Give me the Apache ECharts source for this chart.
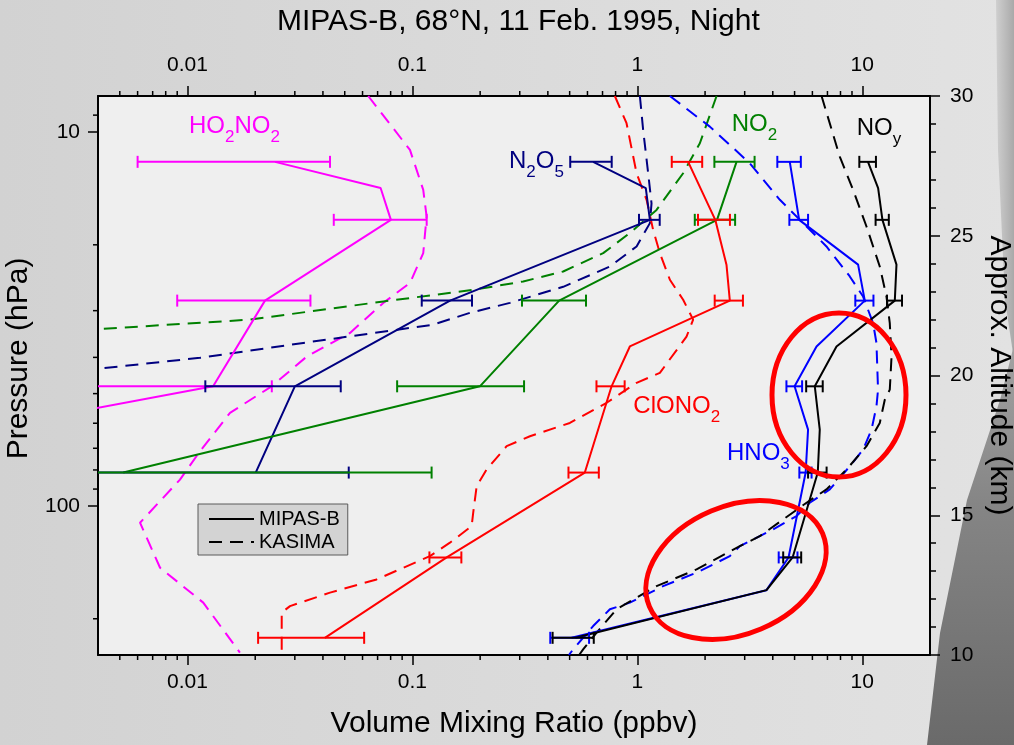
<!DOCTYPE html>
<html><head><meta charset="utf-8">
<script src="https://cdn.jsdelivr.net/npm/echarts@6/dist/echarts.min.js"></script>
<style>html,body{margin:0;padding:0;background:#d8d8d8}#c{width:1014px;height:745px}</style>
</head><body><div id="c"></div>
<script>
const FONT = "'Liberation Sans', Arial, Helvetica, sans-serif";

// MIPAS-B retrieval levels (hPa)
const pLevels = [12.0, 14.1, 17.15, 22.6, 28.2, 37.4, 47.8, 62.4, 81.3, 103.9, 137.1, 167.7, 224.9];

// MIPAS-B profiles (ppbv), null = no vertex at that level
const mipHO2NO2 = [0.0245, 0.0722, 0.0802, null, 0.0221, null, 0.0130, 0.0012, null, null, null, null, null];
const errHO2NO2 = [0.0185, null, 0.0355, null, 0.0131, null, 0.0107, null, null, null, null, null, null];
const mipN2O5 = [0.636, 1.09, 1.137, null, 0.147, null, 0.030, null, 0.0201, null, null, null, null];
const errN2O5 = [0.133, null, 0.12, null, 0.037, null, 0.018, null, 0.032, null, null, null, null];
const mipNO2 = [2.76, null, 2.26, null, 0.449, null, 0.1995, null, 0.00518, null, null, null, null];
const errNO2 = [0.56, null, 0.46, null, 0.142, null, 0.114, null, 0.1165, null, null, null, null];
const mipClONO2 = [1.682, null, 2.22, 2.49, 2.577, 0.926, 0.768, null, 0.584, null, 0.142, null, 0.0408];
const errClONO2 = [0.26, null, 0.36, null, 0.37, null, 0.11, null, 0.09, null, 0.023, null, 0.0202];
const mipHNO3 = [4.76, null, 5.24, 9.58, 10.26, 6.26, 5.0, 5.74, 5.6, null, 4.7, 3.75, 0.51];
const errHNO3 = [0.57, null, 0.5, null, 0.95, null, 0.4, null, 0.35, null, 0.45, null, 0.1];
const mipNOy = [10.6, 11.76, 12.29, 14.19, 13.95, 7.68, 6.15, 6.47, 6.34, null, 4.9, 3.75, 0.53];
const errNOy = [0.9, null, 0.83, null, 1.07, null, 0.52, null, 0.6, null, 0.45, null, 0.11];

// KASIMA model profiles: pressure (hPa) and VMR (ppbv)
const kasHO2NO2P = [8.0, 11.15, 14.26, 16.8, 21.05, 25.3, 28.6, 34.4, 39.8, 47.8, 56.3, 71.3, 84.9, 110.7, 146.1, 181.1, 246.4];
const kasHO2NO2V = [0.0636, 0.0975, 0.1117, 0.1156, 0.1117, 0.0975, 0.0742, 0.0528, 0.0339, 0.02366, 0.01545, 0.01136, 0.00926, 0.00615, 0.00755, 0.01175, 0.0171];
const kasNO2P = [8.0, 10.7, 12.87, 16.13, 18.6, 21.05, 23.57, 25.06, 26.4, 28.35, 31.7, 33.6, 34.0];
const kasNO2V = [2.25, 1.896, 1.598, 1.217, 0.926, 0.7047, 0.468, 0.3108, 0.1863, 0.0742, 0.01896, 0.00408, 0.003];
const kasN2O5P = [8.0, 9.86, 12.87, 15.5, 17.5, 20.2, 22.86, 25.9, 28.6, 30.4, 32.7, 36.6, 40.1, 42.9, 43.5];
const kasN2O5V = [1.026, 1.061, 1.117, 1.156, 1.137, 0.992, 0.755, 0.468, 0.2713, 0.18, 0.1237, 0.0327, 0.01136, 0.004, 0.003];
const kasClONO2P = [8.0, 9.46, 12.87, 15.16, 18.24, 21.05, 24.8, 28.05, 31.7, 35.2, 44.0, 46.8, 52.9, 59.9, 65.0, 69.1, 79.8, 88.4, 104.1, 113.1, 125.2, 136.0, 157.0, 170.3, 185.0, 192.6, 250];
const kasClONO2V = [0.794, 0.895, 0.992, 1.099, 1.175, 1.259, 1.395, 1.598, 1.77, 1.654, 1.259, 0.992, 0.73, 0.501, 0.333, 0.2623, 0.2137, 0.193, 0.1863, 0.1833, 0.1468, 0.1196, 0.0693, 0.043, 0.02855, 0.02623, 0.02623];
const kasHNO3P = [8.0, 9.66, 12.1, 15.16, 17.5, 20.2, 24.3, 27.5, 32.4, 36.6, 48.8, 54.1, 62.4, 70.6, 78.2, 90.2, 97.9, 106.3, 115.4, 127.9, 136.0, 150.6, 163.6, 181.1, 188.7, 209.2, 241.4, 250];
const kasHNO3V = [1.395, 2.1, 3.16, 4.3, 5.46, 6.93, 8.8, 10.08, 11.17, 11.56, 11.75, 11.56, 10.99, 10.08, 8.8, 7.17, 5.84, 5.1, 4.01, 2.855, 2.577, 1.833, 1.302, 0.926, 0.755, 0.636, 0.5186, 0.496];
const kasNOyP = [8.0, 11.62, 14.26, 17.87, 22.86, 27.5, 32.4, 39.8, 48.8, 51.9, 59.9, 69.1, 79.8, 90.2, 97.9, 108.5, 120.3, 127.9, 147.6, 163.6, 188.7, 217.8, 241.4, 250];
const kasNOyV = [6.59, 7.94, 9.1, 10.44, 11.96, 12.81, 13.25, 13.49, 13.25, 12.59, 11.96, 10.44, 8.51, 6.93, 5.65, 4.45, 3.5, 2.855, 1.833, 1.217, 0.808, 0.659, 0.574, 0.551];

// axis ranges and minor ticks
const vmrRange = [0.004, 20];
const pRange = [8, 250];
const altRange = [10, 30];
const xMinorTicks = [0.005,0.006,0.007,0.008,0.009, 0.02,0.03,0.04,0.05,0.06,0.07,0.08,0.09, 0.2,0.3,0.4,0.5,0.6,0.7,0.8,0.9, 2,3,4,5,6,7,8,9];
const yMinorTicks = [9, 20, 30, 40, 50, 60, 70, 80, 90, 200];

const species = [
  {name:'HO2NO2', color:'#ff00ff', mip:mipHO2NO2, err:errHO2NO2, kp:kasHO2NO2P, kv:kasHO2NO2V},
  {name:'N2O5', color:'#000080', mip:mipN2O5, err:errN2O5, kp:kasN2O5P, kv:kasN2O5V},
  {name:'NO2', color:'#008000', mip:mipNO2, err:errNO2, kp:kasNO2P, kv:kasNO2V},
  {name:'ClONO2', color:'#ff0000', mip:mipClONO2, err:errClONO2, kp:kasClONO2P, kv:kasClONO2V},
  {name:'HNO3', color:'#0000ff', mip:mipHNO3, err:errHNO3, kp:kasHNO3P, kv:kasHNO3V},
  {name:'NOy', color:'#000000', mip:mipNOy, err:errNOy, kp:kasNOyP, kv:kasNOyV}
];

function profile(vals){ return pLevels.map((p,i)=> vals[i]==null ? null : [vals[i], p]).filter(Boolean); }
function bars(vals, errs){ return pLevels.map((p,i)=> errs[i]==null ? null : [vals[i], p, vals[i]-errs[i], vals[i]+errs[i]]).filter(Boolean); }
function kas(ps, vs){ return ps.map((p,i)=>[vs[i], p]); }

function errRender(color){
  return function(params, api){
    const p = api.value(1);
    const lo = Math.max(api.value(2), 1e-7);
    const hi = api.value(3);
    const a = api.coord([lo, p]), b = api.coord([hi, p]);
    const h = 6;
    const st = {stroke: color, lineWidth: 2};
    return {type:'group', children:[
      {type:'line', shape:{x1:a[0],y1:a[1],x2:b[0],y2:b[1]}, style:st},
      {type:'line', shape:{x1:a[0],y1:a[1]-h,x2:a[0],y2:a[1]+h}, style:st},
      {type:'line', shape:{x1:b[0],y1:b[1]-h,x2:b[0],y2:b[1]+h}, style:st}
    ]};
  };
}

const DASH = [13, 8];
const series = [];
species.forEach(s => {
  series.push({name:s.name+' KASIMA', type:'line', data:kas(s.kp, s.kv), symbol:'none', silent:true,
    lineStyle:{color:s.color, width:2, type:DASH}, z:2});
});
species.forEach(s => {
  series.push({name:s.name+' MIPAS', type:'line', data:profile(s.mip), symbol:'none', silent:true,
    lineStyle:{color:s.color, width:2}, z:3});
  series.push({name:s.name+' err', type:'custom', data:bars(s.mip, s.err), dimensions:['v','p','lo','hi'],
    encode:{x:0, y:1}, clip:true, silent:true, renderItem:errRender(s.color), z:4});
});
// legend entries
series.push({name:'MIPAS-B', type:'line', data:[], symbol:'none', legendIcon:'none', color:'#000', lineStyle:{color:'#000', width:2}});
series.push({name:'KASIMA', type:'line', data:[], symbol:'none', legendIcon:'none', color:'#000', lineStyle:{color:'#000', width:2, type:DASH}});
// minor ticks on the log axes
series.push({name:'xminor', type:'custom', data:xMinorTicks.map(v=>[v, 10]), clip:false, silent:true, z:5,
  renderItem:function(params, api){
    const cs = params.coordSys;
    const x = api.coord([api.value(0), 10])[0];
    const b = cs.y + cs.height, st = {stroke:'#000', lineWidth:1.5};
    return {type:'group', children:[
      {type:'line', shape:{x1:x,y1:b,x2:x,y2:b+5}, style:st},
      {type:'line', shape:{x1:x,y1:cs.y,x2:x,y2:cs.y-5}, style:st}
    ]};
  }});
series.push({name:'yminor', type:'custom', data:yMinorTicks.map(p=>[1, p]), clip:false, silent:true, z:5,
  renderItem:function(params, api){
    const cs = params.coordSys;
    const y = api.coord([1, api.value(1)])[1];
    return {type:'line', shape:{x1:cs.x,y1:y,x2:cs.x-5,y2:y}, style:{stroke:'#000', lineWidth:1.5}};
  }});

const axisLine = {show:true, onZero:false, lineStyle:{color:'#000', width:2}};
const axisTick = {show:true, length:10, lineStyle:{color:'#000', width:1.5}};

const rich = {
  m:{fontSize:24, lineHeight:24, verticalAlign:'top', fontFamily:FONT},
  s:{fontSize:17, lineHeight:17, verticalAlign:'top', padding:[14,0,0,0], fontFamily:FONT}
};
function label(text, x, y, color){
  return {type:'text', x:x, y:y, z:100, silent:true,
    style:{text:text, fill:color, rich:rich, font:'24px '+FONT, align:'left', verticalAlign:'top'}};
}

const chart = echarts.init(document.getElementById('c'), null, {renderer:'canvas'});
chart.setOption({
  animation:false,
  backgroundColor:'transparent',
  title:{text:'MIPAS-B, 68°N, 11 Feb. 1995, Night', left:272, top:2, padding:[5,5],
    textStyle:{fontSize:30, fontWeight:'normal', color:'#000', fontFamily:FONT}},
  grid:{left:98, right:84, top:96, bottom:90, show:true, backgroundColor:'#efefef', borderWidth:0, containLabel:false, outerBoundsMode:'none'},
  legend:{data:['MIPAS-B','KASIMA'], orient:'vertical', left:198, top:504, padding:[5,8,3,10], itemGap:3,
    itemWidth:45, itemHeight:14, backgroundColor:'#d3d3d3', borderColor:'#5a5a5a', borderWidth:1, borderRadius:0,
    itemStyle:{opacity:0}, selectedMode:false, textStyle:{fontSize:20, color:'#000', fontFamily:FONT}},
  xAxis:[
    {type:'log', logBase:10, min:vmrRange[0], max:vmrRange[1], position:'bottom', axisLine:axisLine, axisTick:axisTick,
     splitLine:{show:false},
     axisLabel:{fontSize:21, color:'#000', margin:17, showMinLabel:false, showMaxLabel:false, fontFamily:FONT},
     name:'Volume Mixing Ratio (ppbv)', nameLocation:'middle', nameGap:54,
     nameTextStyle:{fontSize:30, color:'#000', fontFamily:FONT}},
    {type:'log', logBase:10, min:vmrRange[0], max:vmrRange[1], position:'top', axisLine:axisLine, axisTick:axisTick,
     splitLine:{show:false},
     axisLabel:{fontSize:21, color:'#000', margin:20, showMinLabel:false, showMaxLabel:false, fontFamily:FONT}}
  ],
  yAxis:[
    {type:'log', logBase:10, min:pRange[0], max:pRange[1], inverse:true, position:'left', axisLine:axisLine, axisTick:axisTick,
     splitLine:{show:false},
     axisLabel:{fontSize:21, color:'#000', margin:18, showMinLabel:false, showMaxLabel:false, fontFamily:FONT},
     name:'Pressure (hPa)', nameLocation:'middle', nameGap:64, nameRotate:90,
     nameTextStyle:{fontSize:30, color:'#000', fontFamily:FONT, padding:[0,0,0,34]}},
    {type:'value', min:altRange[0], max:altRange[1], interval:5, position:'right', axisLine:axisLine, axisTick:axisTick,
     minorTick:{show:true, splitNumber:5, length:6, lineStyle:{color:'#000', width:1.5}},
     splitLine:{show:false}, minorSplitLine:{show:false},
     axisLabel:{fontSize:21, color:'#000', margin:20, fontFamily:FONT},
     name:'Approx. Altitude (km)', nameLocation:'middle', nameGap:54, nameRotate:-90,
     nameTextStyle:{fontSize:30, color:'#000', fontFamily:FONT}}
  ],
  graphic:[
    {type:'rect', z:-100, silent:true, shape:{x:0,y:0,width:1014,height:745},
     style:{fill:new echarts.graphic.LinearGradient(0,0,1,0,[{offset:0,color:'#d2d2d2'},{offset:0.6,color:'#dcdcdc'},{offset:1,color:'#e2e2e2'}])}},
    {type:'polygon', z:-90, silent:true, shape:{points:[[996,0],[1014,0],[1014,360],[1005,300],[998,150]]},
     style:{fill:new echarts.graphic.LinearGradient(0,0,1,0,[{offset:0,color:'#cfcfcf'},{offset:1,color:'#a9a9a9'}])}},
    {type:'polygon', z:-90, silent:true, shape:{points:[[1014,345],[1014,745],[927,745],[940,633],[967,500],[1000,400]]},
     style:{fill:new echarts.graphic.LinearGradient(0,0,0,1,[{offset:0,color:'#a3a3a3'},{offset:0.4,color:'#858585'},{offset:1,color:'#6a6a6a'}])}},
    {type:'ellipse', z:100, silent:true, x:839, y:395, shape:{cx:0, cy:0, rx:67, ry:82},
     style:{fill:'none', stroke:'#ff0000', lineWidth:5}},
    {type:'ellipse', z:100, silent:true, x:736, y:570, rotation:0.4, shape:{cx:0, cy:0, rx:94, ry:64},
     style:{fill:'none', stroke:'#ff0000', lineWidth:5}},
    label('{m|HO}{s|2}{m|NO}{s|2}', 189, 114.7, '#ff00ff'),
    label('{m|N}{s|2}{m|O}{s|5}', 509, 149.7, '#000080'),
    label('{m|NO}{s|2}', 731.7, 112.4, '#008000'),
    label('{m|NO}{s|y}', 856.7, 116.4, '#000000'),
    label('{m|ClONO}{s|2}', 633.3, 394.7, '#ff0000'),
    label('{m|HNO}{s|3}', 727, 441.4, '#0000ff')
  ],
  series:series
});
</script></body></html>
